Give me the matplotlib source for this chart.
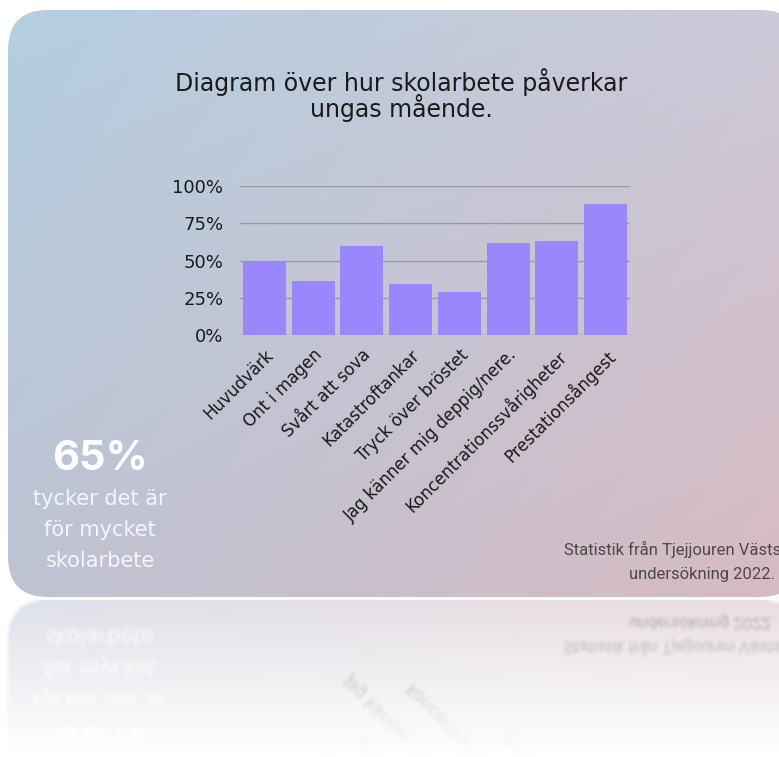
import numpy as np
import matplotlib
matplotlib.use("Agg")
import matplotlib.pyplot as plt
from matplotlib.patches import FancyBboxPatch

# ---- data ----
categories = ["Huvudvärk", "Ont i magen", "Svårt att sova", "Katastroftankar",
              "Tryck över bröstet", "Jag känner mig deppig/nere.",
              "Koncentrationssvårigheter", "Prestationsångest"]
values = [49, 36, 60, 34, 29, 62, 63, 88]
yticks = [0, 25, 50, 75, 100]
ytick_labels = ["0%", "25%", "50%", "75%", "100%"]
title = "Diagram över hur skolarbete påverkar\nungas mående."
big_stat = "65%"
stat_text = ["tycker det är", "för mycket", "skolarbete"]
source_text = ["Statistik från Tjejjouren Västs", "undersökning 2022."]

W, H = 779, 757
fig = plt.figure(figsize=(W / 100, H / 100), dpi=100)
fig.patch.set_facecolor("white")

# ---- background card ----
bg = fig.add_axes([0, 0, 1, 1], zorder=0)
bg.set_xlim(0, W)
bg.set_ylim(H, 0)
bg.axis("off")

cx0, cy0, cx1, cy1 = 8, 10, 800, 597
nx, ny = 200, 200
u = np.linspace(0, 1, nx)[None, :, None]
v = np.linspace(0, 1, ny)[:, None, None]
TL = np.array([180, 206, 224]) / 255
TR = np.array([205, 201, 216]) / 255
BL = np.array([190, 195, 211]) / 255
BR = np.array([216, 186, 194]) / 255
grad = (TL * (1 - u) * (1 - v) + TR * u * (1 - v) + BL * (1 - u) * v + BR * u * v)
im = bg.imshow(grad, extent=(cx0, cx1, cy1, cy0), aspect="auto", zorder=0)
card = FancyBboxPatch((cx0 + 40, cy0 + 40), (cx1 - cx0) - 80, (cy1 - cy0) - 80,
                      boxstyle="round,pad=40", transform=bg.transData,
                      facecolor="none", edgecolor="none")
bg.add_patch(card)
im.set_clip_path(card)

# title
bg.text(401, 95, title, ha="center", va="center", fontsize=17,
        family=["DejaVu Sans"], color="#1a1a1a", linespacing=0.88)

# left stat
bg.text(100, 459, big_stat, ha="center", va="center", fontsize=30,
        fontweight="bold", family=["Inter", "DejaVu Sans"], color="white")
for i, t in enumerate(stat_text):
    bg.text(100, 499 + i * 31, t, ha="center", va="center", fontsize=15,
            family=["DejaVu Sans"], color="white", alpha=0.85)

# source
bg.text(781, 549, source_text[0], ha="right", va="center", fontsize=12,
        family=["Roboto", "DejaVu Sans"], color="#4a4a4a")
bg.text(775, 574, source_text[1], ha="right", va="center", fontsize=12,
        family=["Roboto", "DejaVu Sans"], color="#4a4a4a")

# ---- bar chart ----
ax = fig.add_axes([240 / W, 1 - 335 / H, 390 / W, 149 / H], zorder=2)
ax.patch.set_alpha(0)
x = np.arange(len(categories))
ax.bar(x, values, width=0.88, color="#9a86fd", zorder=3)
ax.set_xlim(-0.5, len(categories) - 0.5)
ax.set_ylim(0, 100)
ax.set_yticks(yticks)
ax.set_yticklabels(ytick_labels, family=["DejaVu Sans"],
                   fontsize=13, color="#1a1a1a")
ax.grid(axis="y", color="#9a9aa4", linewidth=1, zorder=1)
ax.set_axisbelow(True)
for s in ax.spines.values():
    s.set_visible(False)
ax.tick_params(length=0)
ax.tick_params(axis="y", pad=12)
ax.set_xticks(x)
ax.set_xticklabels(categories, rotation=45, ha="right", rotation_mode="anchor",
                   family=["DejaVu Sans"], fontsize=12, color="#1a1a1a")
ax.tick_params(axis="x", pad=8)

# ---- reflection ----
fig.canvas.draw()
buf = np.asarray(fig.canvas.buffer_rgba())[:, :, :3].astype(float) / 255
rh = H - 600
src = buf[597 - rh:597][::-1].copy()
k = 2
pad = np.pad(src, ((k, k), (k, k), (0, 0)), mode="edge")
blur = np.zeros_like(src)
for dy in range(-k, k + 1):
    for dx in range(-k, k + 1):
        blur += pad[k + dy:k + dy + rh, k + dx:k + dx + src.shape[1]]
blur /= (2 * k + 1) ** 2
alpha = np.linspace(0.5, 0.0, rh)[:, None, None]
refl = np.ones((rh, W, 4))
refl[:, :, :3] = blur * alpha + (1 - alpha)
refl[:, :, 3] = 1
fig.figimage(refl, xo=0, yo=0, zorder=5)

fig.savefig("out.png", dpi=100)
